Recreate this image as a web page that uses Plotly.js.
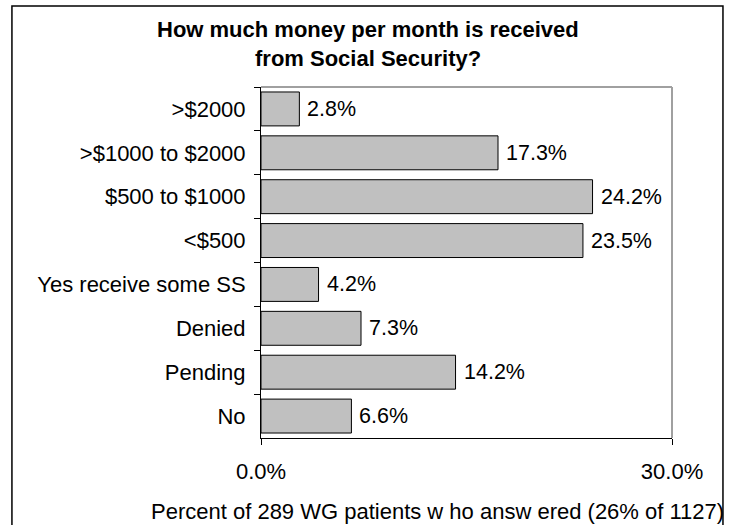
<!DOCTYPE html>
<html>
<head>
<meta charset="utf-8">
<script src="https://cdn.plot.ly/plotly-3.0.1.min.js"></script>
<style>html,body{margin:0;padding:0;background:#fff;}</style>
</head>
<body>
<div id="chart" style="width:736px;height:525px;"></div>
<script>
var categories = [">$2000", ">$1000 to $2000", "$500 to $1000", "<$500", "Yes receive some SS", "Denied", "Pending", "No"];
var values = [2.8, 17.3, 24.2, 23.5, 4.2, 7.3, 14.2, 6.6];
var xTickVals = [0, 30];
var xTickText = ["0.0%", "30.0%"];
var titleLines = ["How much money per month is received", "from Social Security?"];
var axisTitle = "Percent of 289 WG patients w ho answ ered (26% of 1127)";

var FONT = "Liberation Sans, Arial, sans-serif";

var trace = {
  type: "bar",
  orientation: "h",
  y: categories,
  x: values,
  marker: {color: "#c0c0c0", line: {color: "#000000", width: 1}},
  hoverinfo: "none"
};

var annotations = categories.map(function (c, i) {
  return {
    x: values[i], y: c, xref: "x", yref: "y",
    text: values[i].toFixed(1) + "%",
    showarrow: false, xanchor: "left", yanchor: "middle",
    xshift: 6,
    font: {family: FONT, size: 21.5, color: "#000"}
  };
});
annotations.push({
  xref: "paper", yref: "paper", x: 0.4294, y: -0.208,
  xanchor: "center", yanchor: "middle", showarrow: false,
  text: axisTitle,
  font: {family: FONT, size: 22, color: "#000"}
});
var titleY = [1.1652, 1.0798];
titleLines.forEach(function (t, i) {
  annotations.push({
    xref: "paper", yref: "paper", x: (368 - 261) / 411, y: titleY[i],
    xanchor: "center", yanchor: "middle", showarrow: false,
    text: "<b>" + t + "</b>",
    font: {family: FONT, size: 22, color: "#000"}
  });
});

var layout = {
  width: 736, height: 525,
  margin: {l: 261, r: 64, t: 87, b: 87, pad: 0},
  paper_bgcolor: "#ffffff", plot_bgcolor: "#ffffff",
  showlegend: false,
  bargap: 0.227,
  xaxis: {
    range: [0, 30], tickvals: xTickVals, ticktext: xTickText,
    showgrid: false, zeroline: false,
    showline: true, linecolor: "#000", linewidth: 1,
    ticks: "outside", ticklen: 6, tickcolor: "#000", tickwidth: 1,
    ticklabelstandoff: 8,
    tickfont: {family: FONT, size: 22, color: "#000"},
    fixedrange: true
  },
  yaxis: {
    type: "category", autorange: "reversed",
    showgrid: false, zeroline: false,
    showline: true, linecolor: "#000", linewidth: 1,
    ticks: "outside", ticklen: 6, tickcolor: "#000", tickwidth: 1,
    tickson: "boundaries",
    ticklabelstandoff: 10,
    tickfont: {family: FONT, size: 22, color: "#000"},
    fixedrange: true
  },
  shapes: [
    {type: "line", xref: "paper", yref: "paper", x0: 0, x1: 1, y0: 1, y1: 1,
     line: {color: "#a0a0a0", width: 2}},
    {type: "line", xref: "paper", yref: "paper", x0: 1, x1: 1, y0: 0, y1: 1,
     line: {color: "#a0a0a0", width: 2}},
    {type: "rect", xref: "paper", yref: "paper", x0: -0.606, x1: 1.124, y0: -0.3, y1: 1.231,
     line: {color: "#000", width: 1.5}, fillcolor: "rgba(0,0,0,0)"}
  ],
  annotations: annotations
};

Plotly.newPlot("chart", [trace], layout, {displayModeBar: false, staticPlot: true});
</script>
</body>
</html>
